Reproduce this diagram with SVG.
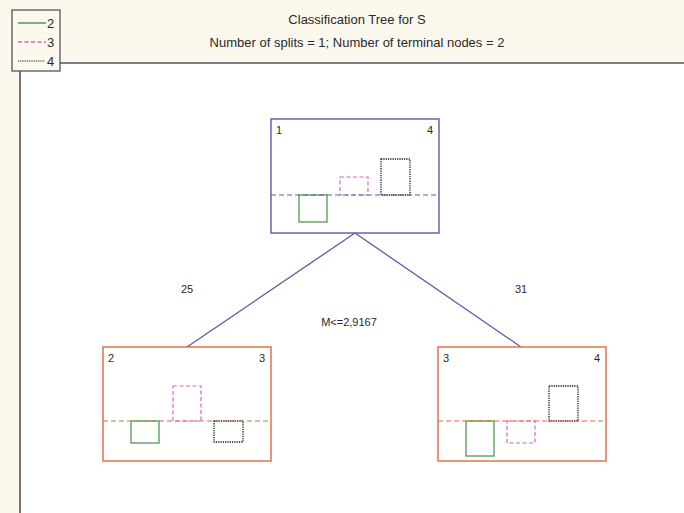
<svg xmlns="http://www.w3.org/2000/svg" width="684" height="513" viewBox="0 0 684 513">
  <defs>
    <style>
      text { font-family: "Liberation Sans", Arial, sans-serif; fill: #2a2a2a; }
      .title { font-size: 13px; text-anchor: middle; }
      .lbl { font-size: 11px; }
      .key { font-size: 13px; }
      .frame { fill: none; stroke: #555; stroke-width: 1.6; }
      .root { fill: #fff; stroke: #5a5aaa; stroke-width: 1.4; }
      .leaf { fill: #fff; stroke: #e2683f; stroke-width: 1.4; }
      .base-root { stroke: #5a5aaa; stroke-width: 1.2; stroke-dasharray: 5 3; }
      .base-leaf { stroke: #e2683f; stroke-width: 1.2; stroke-dasharray: 5 3; }
      .c2 { fill: none; stroke: #4f9a4f; stroke-width: 1.3; }
      .c3 { fill: none; stroke: #d466c4; stroke-width: 1.2; stroke-dasharray: 4 2.5; }
      .c4 { fill: none; stroke: #222; stroke-width: 1.3; stroke-dasharray: 1.3 1; }
      .edge { stroke: #5a5aaa; stroke-width: 1.3; fill: none; }
    </style>
  </defs>

  <!-- page background and header band -->
  <rect x="0" y="0" width="684" height="513" fill="#fdf8ee"/>
  <rect x="20" y="63" width="664" height="450" fill="#ffffff"/>

  <!-- plot frame -->
  <line class="frame" x1="60" y1="63" x2="684" y2="63"/>
  <line class="frame" x1="20" y1="71" x2="20" y2="513"/>

  <!-- legend -->
  <g id="legend">
    <rect x="12" y="10" width="48" height="61" fill="#fdf8ee" stroke="#555" stroke-width="1.3"/>
    <line x1="18" y1="23" x2="46" y2="23" stroke="#4f9a4f" stroke-width="1.5"/>
    <text class="key" x="47" y="28">2</text>
    <line x1="18" y1="42" x2="46" y2="42" stroke="#d466c4" stroke-width="1.3" stroke-dasharray="4 2.5"/>
    <text class="key" x="47" y="47">3</text>
    <line x1="18" y1="61" x2="45" y2="61" stroke="#222" stroke-width="1.2" stroke-dasharray="1 0.8"/>
    <text class="key" x="47" y="66">4</text>
  </g>

  <!-- titles -->
  <text class="title" x="357" y="24">Classification Tree for S</text>
  <text class="title" x="357" y="47">Number of splits = 1; Number of terminal nodes = 2</text>

  <!-- connectors -->
  <g id="connectors">
    <line class="edge" x1="355" y1="233" x2="187" y2="347"/>
    <line class="edge" x1="355" y1="233" x2="521" y2="347"/>
    <text class="lbl" x="187" y="293" text-anchor="middle">25</text>
    <text class="lbl" x="521" y="293" text-anchor="middle">31</text>
    <text class="lbl" x="349" y="326" text-anchor="middle">M&lt;=2,9167</text>
  </g>

  <!-- root node -->
  <g id="node1">
    <rect class="root" x="271" y="119" width="168" height="114"/>
    <text class="lbl" x="276" y="134">1</text>
    <text class="lbl" x="427" y="134">4</text>
    <rect class="c2" x="299" y="195" width="28" height="27"/>
    <rect class="c3" x="340" y="177" width="28" height="18"/>
    <rect class="c4" x="381" y="159" width="29" height="36"/>
    <line class="base-root" x1="271" y1="195" x2="439" y2="195"/>
  </g>

  <!-- left terminal node -->
  <g id="node2">
    <rect class="leaf" x="103" y="347" width="168" height="114"/>
    <text class="lbl" x="108" y="362">2</text>
    <text class="lbl" x="259" y="362">3</text>
    <rect class="c2" x="131" y="421" width="28" height="22"/>
    <rect class="c3" x="173" y="386" width="28" height="35"/>
    <rect class="c4" x="214" y="421" width="29" height="21"/>
    <line class="base-leaf" x1="103" y1="421" x2="271" y2="421"/>
  </g>

  <!-- right terminal node -->
  <g id="node3">
    <rect class="leaf" x="438" y="347" width="168" height="114"/>
    <text class="lbl" x="443" y="362">3</text>
    <text class="lbl" x="594" y="362">4</text>
    <rect class="c2" x="466" y="421" width="28" height="35"/>
    <rect class="c3" x="507" y="421" width="28" height="22"/>
    <rect class="c4" x="549" y="386" width="29" height="35"/>
    <line class="base-leaf" x1="438" y1="421" x2="606" y2="421"/>
  </g>
</svg>
